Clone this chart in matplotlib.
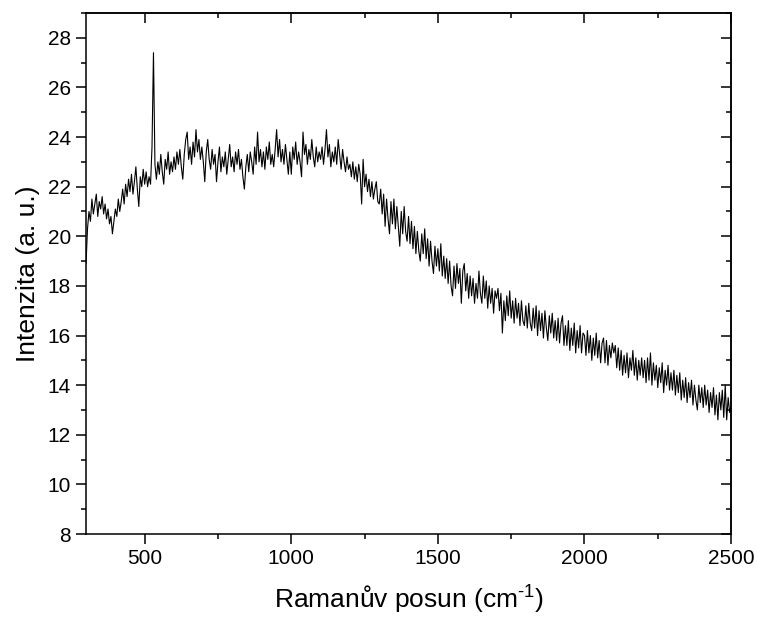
import numpy as np
import matplotlib
matplotlib.use("Agg")
import matplotlib.pyplot as plt
from matplotlib.ticker import MultipleLocator

plt.rcParams['font.family'] = ['Liberation Sans', 'DejaVu Sans']
plt.rcParams['mathtext.fontset'] = 'custom'
plt.rcParams['mathtext.rm'] = 'Liberation Sans'
plt.rcParams['mathtext.it'] = 'Liberation Sans'

# Raman spectrum, one value every 5 cm-1 from 300 to 2500
x_start = 300
x_step = 5
intensity = [
    18.9, 20.3, 21.0, 20.6, 21.5, 20.9, 21.3, 21.7, 20.8, 21.4, 21.1, 21.6, 20.9, 21.3, 20.7, 21.1, 20.5, 20.8, 20.1, 20.6,
    21.1, 20.8, 21.5, 21.0, 21.4, 21.9, 21.3, 22.1, 21.6, 22.3, 21.8, 22.5, 21.7, 22.2, 22.8, 21.9, 21.2, 22.4, 22.0, 22.7,
    22.1, 22.6, 22.0, 22.4, 22.1, 23.6, 27.4, 22.9, 22.3, 23.0, 22.5, 23.3, 22.6, 22.1, 23.1, 22.7, 23.4, 22.5, 23.0, 22.6,
    23.2, 22.7, 23.4, 22.9, 23.5, 22.8, 22.3, 23.3, 23.9, 24.2, 23.1, 23.6, 22.9, 23.8, 23.2, 24.3, 23.4, 23.9, 23.1, 23.6,
    23.0, 22.2, 23.4, 23.9, 23.1, 22.7, 23.5, 22.9, 23.3, 22.2, 23.0, 23.6, 22.6, 23.2, 22.8, 23.4, 22.5, 23.1, 23.7, 22.8,
    23.2, 22.6, 23.4, 22.9, 23.5, 22.7, 23.1, 22.4, 21.9, 22.8, 23.3, 22.6, 23.4, 23.0, 22.5, 23.6, 22.9, 24.2, 23.0, 23.5,
    22.8, 23.4, 22.7, 23.6, 23.1, 23.8, 22.9, 23.3, 22.8, 23.5, 24.3, 23.2, 23.9, 23.0, 23.5, 22.9, 23.7, 23.1, 22.5, 23.4,
    22.5, 23.6, 23.1, 23.8, 22.9, 23.4, 23.0, 22.4, 24.2, 23.3, 23.7, 22.9, 23.5, 23.1, 23.9, 23.2, 22.8, 23.6, 23.0, 23.4,
    23.1, 23.6, 22.9, 23.5, 24.3, 23.2, 23.7, 22.8, 23.4, 23.0, 23.6, 22.9, 23.9, 23.3, 22.7, 23.5, 23.0, 22.6, 23.2, 22.7,
    22.9, 22.4, 23.0, 22.3, 22.8, 22.2, 22.9, 22.5, 21.3, 23.1, 22.0, 22.5, 21.8, 22.3, 21.6, 22.2, 21.5, 21.9, 22.2, 21.4,
    21.3, 21.9, 20.9, 21.7, 20.4, 21.5, 20.7, 20.1, 21.4, 20.5, 21.5, 20.3, 21.2, 20.4, 19.6, 21.0, 20.1, 21.2, 20.2, 19.8,
    20.8, 19.7, 20.6, 19.5, 20.4, 19.3, 20.2, 19.4, 19.0, 20.1, 19.3, 20.3, 19.1, 19.9, 18.8, 19.8, 19.0, 18.5, 19.6, 18.8,
    19.5, 18.6, 19.7, 18.4, 19.2, 18.3, 19.1, 18.1, 19.0, 18.0, 17.6, 18.8, 17.9, 18.9, 18.1, 18.7, 17.3, 18.6, 18.9, 17.8,
    18.5, 17.5, 18.4, 17.6, 18.3, 17.3, 18.1, 17.5, 18.6, 17.7, 17.3, 18.4, 17.5, 18.2, 17.1, 18.0, 17.3, 17.9, 16.9, 17.8,
    17.5, 17.9, 17.0, 17.7, 16.1, 17.4, 16.6, 17.6, 16.8, 17.8, 16.7, 17.4, 16.5, 17.5, 16.7, 17.3, 16.4, 17.4, 16.6, 16.4,
    17.2, 16.3, 17.3, 16.5, 16.2, 17.1, 16.3, 17.2, 16.0, 17.0, 16.2, 16.9, 15.9, 17.0, 16.3, 15.8, 16.8, 16.1, 16.9, 15.9,
    16.6, 15.8, 16.7, 15.7, 16.5, 16.8, 15.6, 16.4, 15.6, 16.6, 15.4, 16.3, 15.6, 16.5, 15.3, 16.2, 15.5, 16.4, 15.3, 16.1,
    16.0, 15.2, 16.2, 15.3, 16.0, 15.0, 15.9, 15.2, 16.1, 15.1, 15.8, 14.9, 15.7, 15.9, 14.9, 15.8, 14.8, 15.6, 15.1, 15.7,
    15.3, 15.6, 14.7, 15.5, 14.6, 15.4, 14.4, 15.2, 14.5, 15.3, 14.3, 15.1, 14.6, 15.4, 14.4, 15.1, 14.2, 15.0, 14.4, 15.1,
    14.3, 15.0, 14.1, 15.1, 14.2, 15.3, 14.0, 14.9, 14.2, 14.8, 13.9, 14.7, 14.1, 14.9, 13.7, 14.6, 14.0, 14.8, 13.8, 14.5,
    13.8, 14.6, 13.6, 14.4, 13.7, 14.5, 13.4, 14.2, 13.5, 14.3, 13.3, 14.1, 13.5, 14.2, 13.2, 14.0, 13.4, 13.0, 14.0, 13.3,
    13.9, 13.1, 14.0, 13.2, 13.8, 12.9, 13.7, 13.1, 13.9, 12.8, 13.6, 12.6, 13.7, 13.0, 13.8, 12.7, 14.0, 12.6, 13.5, 12.9,
    13.2,
]
shift = x_start + x_step * np.arange(len(intensity))

fig = plt.figure(figsize=(7.58, 6.19), dpi=100)
ax = fig.add_axes([0.1135, 0.1373, 0.851, 0.8417])

ax.plot(shift, intensity, color='black', lw=0.8)

ax.set_xlim(300, 2500)
ax.set_ylim(8, 29)
ax.xaxis.set_major_locator(MultipleLocator(500))
ax.xaxis.set_minor_locator(MultipleLocator(250))
ax.yaxis.set_major_locator(MultipleLocator(2))
ax.yaxis.set_minor_locator(MultipleLocator(1))

for s in ax.spines.values():
    s.set_linewidth(1.1)

# Origin-like ticks: outward on left/bottom, inward mirrored on top/right
ax.tick_params(which='both', direction='out', width=1.1, labelsize=15,
               top=False, right=False)
ax.tick_params(which='major', length=7)
ax.tick_params(which='minor', length=3.5)
ax.tick_params(axis='x', pad=4)
ax.tick_params(axis='y', pad=4)

ax_top = ax.secondary_xaxis('top')
ax_top.xaxis.set_major_locator(MultipleLocator(500))
ax_top.xaxis.set_minor_locator(MultipleLocator(250))
ax_top.tick_params(which='both', direction='in', width=1.1, labeltop=False)
ax_top.tick_params(which='major', length=7)
ax_top.tick_params(which='minor', length=3.5)
ax_top.spines['top'].set_linewidth(1.1)

ax_right = ax.secondary_yaxis('right')
ax_right.yaxis.set_major_locator(MultipleLocator(2))
ax_right.yaxis.set_minor_locator(MultipleLocator(1))
ax_right.tick_params(which='both', direction='in', width=1.1, labelright=False)
ax_right.tick_params(which='major', length=7)
ax_right.tick_params(which='minor', length=3.5)
ax_right.spines['right'].set_linewidth(1.1)

ax.set_xlabel(r'Ramanův posun (cm$^{\text{-}1}$)', fontsize=19, labelpad=11)
ax.set_ylabel('Intenzita (a. u.)', fontsize=19, labelpad=5)

fig.savefig('out.png', dpi=100)
